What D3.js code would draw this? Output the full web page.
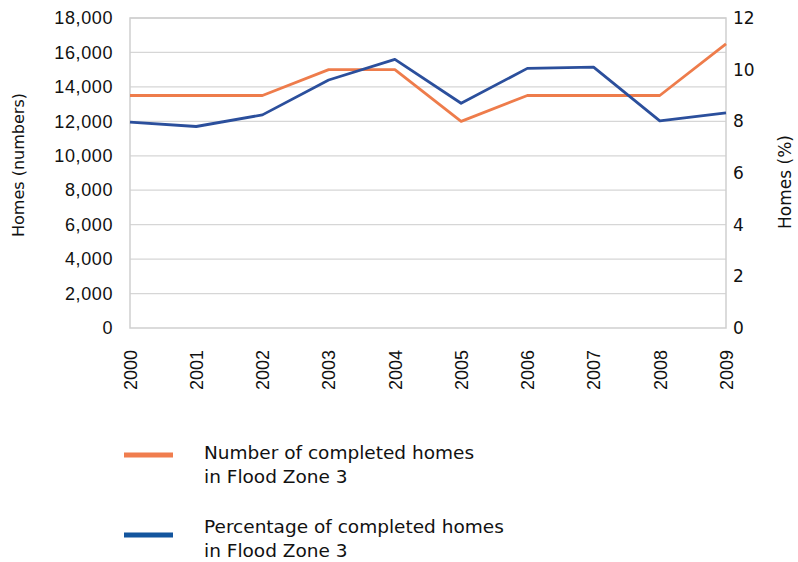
<!DOCTYPE html>
<html>
<head>
<meta charset="utf-8">
<script src="https://cdn.jsdelivr.net/npm/d3@7"></script>
<style>
    body { margin: 0; background: #fff; }
    svg { display: block; }
</style>
</head>
<body>
<svg id="chart" width="798" height="562"></svg>
<script>
// chart data
var years = ["2000", "2001", "2002", "2003", "2004", "2005", "2006", "2007", "2008", "2009"];
var homesCount = [13500, 13500, 13500, 15000, 15000, 12000, 13500, 13500, 13500, 16500];
var homesPct = [7.97, 7.8, 8.25, 9.6, 10.4, 8.7, 10.05, 10.1, 8.02, 8.33];
var leftTicks = [0, 2000, 4000, 6000, 8000, 10000, 12000, 14000, 16000, 18000];
var rightTicks = [0, 2, 4, 6, 8, 10, 12];
var legendItems = [
    {lines: ["Number of completed homes", "in Flood Zone 3"], color: "#f07d4e", y: 455, textY: 4},
    {lines: ["Percentage of completed homes", "in Flood Zone 3"], color: "#13559e", y: 535, textY: -2}
];

var orange = "#ee7c4b",
    blue = "#2b4f9c";

var svg = d3.select("#chart");

var plot = {left: 130, right: 726, top: 18, bottom: 328};

var x = d3.scalePoint().domain(years).range([plot.left, plot.right]);
var yLeft = d3.scaleLinear().domain([0, 18000]).range([plot.bottom, plot.top]);
var yRight = d3.scaleLinear().domain([0, 12]).range([plot.bottom, plot.top]);

// frame + gridlines
svg.append("g").selectAll("line")
    .data(leftTicks.slice(1))
    .enter().append("line")
    .attr("x1", plot.left).attr("x2", plot.right)
    .attr("y1", function (d) { return yLeft(d); })
    .attr("y2", function (d) { return yLeft(d); })
    .attr("stroke", "#d6d6d6").attr("stroke-width", 1.3);

svg.append("rect")
    .attr("x", plot.left).attr("y", plot.top)
    .attr("width", plot.right - plot.left).attr("height", plot.bottom - plot.top)
    .attr("fill", "none").attr("stroke", "#cfcfcf").attr("stroke-width", 1.5);

// left axis
var leftAxis = svg.append("g")
    .attr("transform", "translate(" + (plot.left - 17) + ",0)")
    .call(d3.axisLeft(yLeft).tickValues(leftTicks).tickSize(0).tickFormat(d3.format(",")));
leftAxis.select(".domain").remove();
leftAxis.selectAll("text")
    .attr("x", 0)
    .attr("font-family", "Liberation Sans, Arial, sans-serif")
    .attr("font-size", 18)
    .attr("letter-spacing", 0.6)
    .attr("fill", "#111");

// right axis
var rightAxis = svg.append("g")
    .attr("transform", "translate(" + (plot.right + 7) + ",0)")
    .call(d3.axisRight(yRight).tickValues(rightTicks).tickSize(0));
rightAxis.select(".domain").remove();
rightAxis.selectAll("text")
    .attr("x", 0)
    .attr("font-family", "DejaVu Sans, sans-serif")
    .attr("font-size", 17)
    .attr("fill", "#111");

// bottom axis, rotated year labels
var bottomAxis = svg.append("g")
    .attr("transform", "translate(0," + plot.bottom + ")")
    .call(d3.axisBottom(x).tickSize(0));
bottomAxis.select(".domain").remove();
bottomAxis.selectAll("text")
    .attr("transform", "rotate(-90)")
    .attr("x", -22).attr("y", 0).attr("dy", "0.35em")
    .style("text-anchor", "end")
    .attr("font-family", "Liberation Sans, Arial, sans-serif")
    .attr("font-size", 18)
    .attr("fill", "#111");

// axis titles
svg.append("text")
    .attr("transform", "translate(24,165) rotate(-90)")
    .attr("text-anchor", "middle")
    .attr("font-family", "DejaVu Sans, sans-serif")
    .attr("font-size", 16)
    .attr("fill", "#111")
    .text("Homes (numbers)");

svg.append("text")
    .attr("transform", "translate(791,182) rotate(-90)")
    .attr("text-anchor", "middle")
    .attr("font-family", "DejaVu Sans, sans-serif")
    .attr("font-size", 17)
    .attr("fill", "#111")
    .text("Homes (%)");

// series
var lineLeft = d3.line()
    .x(function (d, i) { return x(years[i]); })
    .y(function (d) { return yLeft(d); });
var lineRight = d3.line()
    .x(function (d, i) { return x(years[i]); })
    .y(function (d) { return yRight(d); });

svg.append("path")
    .datum(homesCount)
    .attr("d", lineLeft)
    .attr("fill", "none").attr("stroke", orange).attr("stroke-width", 2.8)
    .attr("stroke-linejoin", "round");

svg.append("path")
    .datum(homesPct)
    .attr("d", lineRight)
    .attr("fill", "none").attr("stroke", blue).attr("stroke-width", 2.8)
    .attr("stroke-linejoin", "round");

// legend
var legend = svg.append("g").selectAll("g")
    .data(legendItems)
    .enter().append("g")
    .attr("transform", function (d) { return "translate(0," + d.y + ")"; });

legend.append("line")
    .attr("x1", 124).attr("x2", 173)
    .attr("y1", 0).attr("y2", 0)
    .attr("stroke", function (d) { return d.color; })
    .attr("stroke-width", 5);

legend.append("text")
    .attr("font-family", "DejaVu Sans, sans-serif")
    .attr("font-size", 18.5)
    .attr("fill", "#111")
    .each(function (d) {
        d3.select(this).selectAll("tspan")
            .data(d.lines)
            .enter().append("tspan")
            .attr("x", 204)
            .attr("y", function (t, i) { return d.textY + i * 24; })
            .text(function (t) { return t; });
    });
</script>
</body>
</html>
